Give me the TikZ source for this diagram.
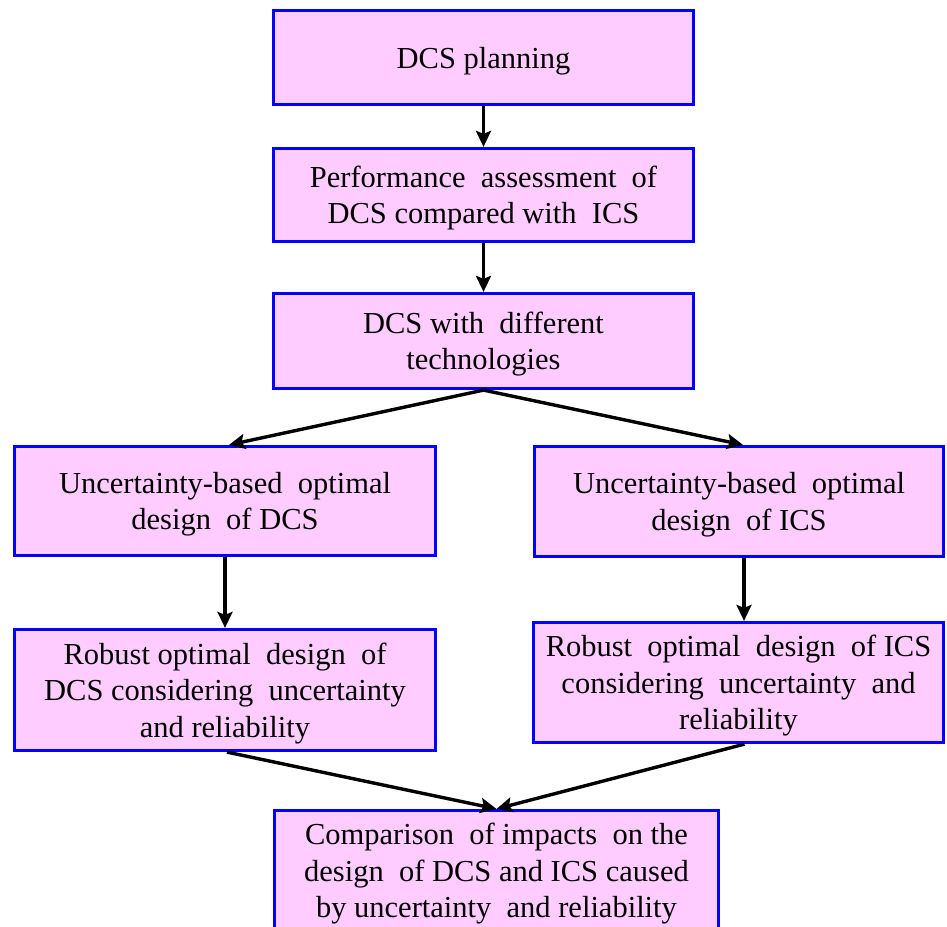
\documentclass[tikz,border=0pt]{standalone}
\usepackage{fontspec}
\setmainfont{Liberation Serif}
\usetikzlibrary{arrows.meta}
\definecolor{boxfill}{HTML}{FFCCFF}
\definecolor{boxline}{HTML}{0000FF}
\begin{document}
\begin{tikzpicture}[x=1pt,y=-1pt,
  flowbox/.style={draw=boxline, fill=boxfill, line width=3.2pt, rectangle,
    align=center, inner sep=0pt, text depth=0pt,
    font=\fontsize{30.5}{36.5}\selectfont},
  flowarrow/.style={line width=3.4pt, -{Stealth[length=16pt,width=15pt,inset=3pt]}}]
\useasboundingbox (0,0) rectangle (947,926);

\node[flowbox, minimum width=420pt, minimum height=94pt] (plan) at (483.5,57.5) {DCS planning};
\node[flowbox, minimum width=420pt, minimum height=93pt] (assess) at (483.5,195)
  {Performance\ \ assessment\ \ of\\DCS compared\ with\ \ ICS};
\node[flowbox, minimum width=420pt, minimum height=95pt] (tech) at (483.5,341)
  {DCS with\ \ different\\technologies};
\node[flowbox, minimum width=421pt, minimum height=109pt] (udcs) at (225,501)
  {Uncertainty-based\ \ optimal\\design\ \ of DCS};
\node[flowbox, minimum width=409pt, minimum height=110pt] (uics) at (739,501.5)
  {Uncertainty-based\ \ optimal\\design\ \ of ICS};
\node[flowbox, minimum width=421pt, minimum height=121pt] (rdcs) at (225,690)
  {Robust optimal\ \ design\ \ of\\DCS considering\ \ uncertainty\\and reliability};
\node[flowbox, minimum width=410pt, minimum height=120pt] (rics) at (738.5,682.5)
  {Robust\ \ optimal\ \ design\ \ of ICS\\considering\ \ uncertainty\ \ and\\reliability};
\node[flowbox, minimum width=444pt, minimum height=135pt, text depth=15pt] (comp) at (496.5,878)
  {Comparison\ \ of impacts\ \ on the\\design\ \ of DCS and ICS caused\\by uncertainty\ \ and reliability};

\draw[flowarrow] (plan.south) -- (assess.north);
\draw[flowarrow] (assess.south) -- (tech.north);
\draw[flowarrow] (tech.south) -- ([xshift=4pt]udcs.north);
\draw[flowarrow] (tech.south) -- ([xshift=4pt]uics.north);
\draw[flowarrow] (udcs.south) -- (rdcs.north);
\draw[flowarrow] ([xshift=5pt]uics.south) -- ([xshift=5.5pt]rics.north);
\draw[flowarrow] ([xshift=2pt]rdcs.south) -- (comp.north);
\draw[flowarrow] ([xshift=6pt]rics.south) -- (comp.north);
\end{tikzpicture}
\end{document}
